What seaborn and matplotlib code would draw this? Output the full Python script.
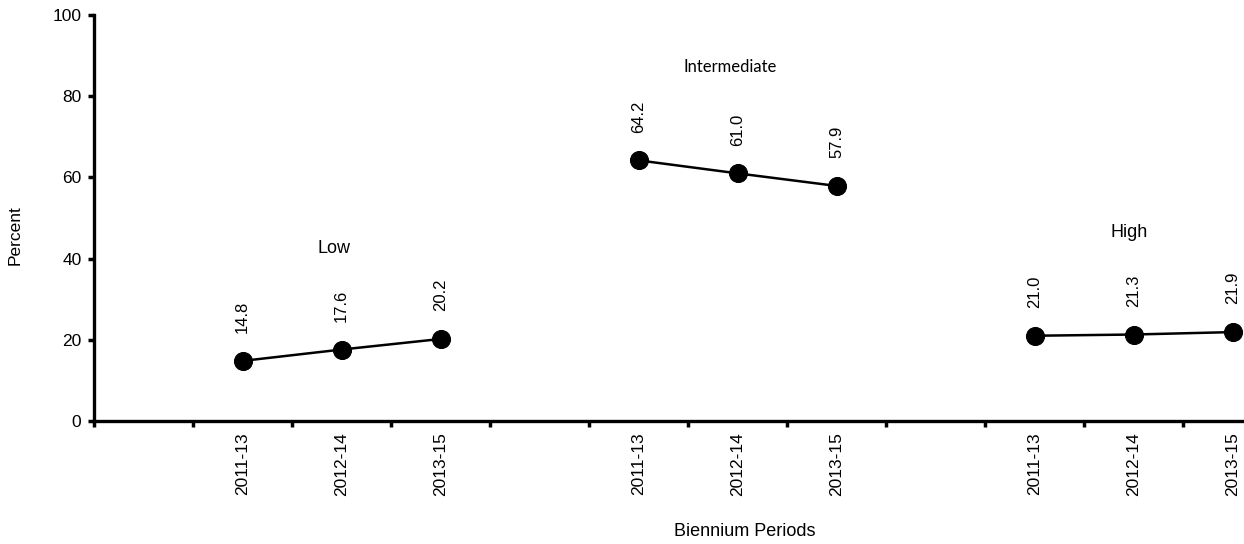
import pandas as pd
import matplotlib
matplotlib.use("Agg")
import matplotlib.pyplot as plt
import seaborn as sns

# data
groups = ["Low", "Intermediate", "High"]
periods = ["2011-13", "2012-14", "2013-15"]
low = [14.8, 17.6, 20.2]
intermediate = [64.2, 61.0, 57.9]
high = [21.0, 21.3, 21.9]
slot_labels = ["", "2011-13", "2012-14", "2013-15"] * 3

sns.set_style("white")
plt.rcParams["font.family"] = ["Liberation Sans", "DejaVu Sans"]
plt.rcParams["text.color"] = "black"
plt.rcParams["xtick.color"] = "black"
plt.rcParams["ytick.color"] = "black"

rows = []
for g, vals in enumerate([low, intermediate, high]):
    for p, v in enumerate(vals):
        rows.append({"group": groups[g], "period": periods[p],
                     "pos": g * 4 + p + 1, "value": v})
df = pd.DataFrame(rows)

fig = plt.figure(figsize=(12.44, 5.44), dpi=100)
ax = fig.add_axes([94 / 1244, 123 / 544, 1188 / 1244, 406 / 544])

sns.lineplot(data=df, x="pos", y="value", units="group", estimator=None,
             color="black", linewidth=1.8, marker="o", markersize=13,
             markeredgecolor="black", ax=ax, legend=False)

# value labels above points
for _, r in df.iterrows():
    ax.annotate(f"{r['value']:.1f}", (r["pos"], r["value"]),
                xytext=(0, 20), textcoords="offset points",
                rotation=90, ha="center", va="bottom", fontsize=12)

# group names
ax.text(1.92, 42.6, "Low", ha="center", va="center", fontsize=13)
ax.text(5.93, 87.2, "Intermediate", ha="center", va="center", fontsize=12,
        family=["Lato", "DejaVu Sans"])
ax.text(9.96, 46.5, "High", ha="center", va="center", fontsize=13)

ax.set_xlim(-0.5, 11.5)
ax.set_ylim(0, 100)
ax.set_yticks(range(0, 101, 20))
ax.set_xticks([i - 0.5 for i in range(13)])
ax.set_xticklabels([])
ax.set_xticks(range(12), minor=True)
ax.set_xticklabels(slot_labels, minor=True, rotation=90)
ax.tick_params(axis="x", which="minor", bottom=True, length=0, pad=8,
               labelsize=12.5, labelcolor="black")
ax.tick_params(axis="x", which="major", bottom=True, direction="out",
               length=4, width=2.5, color="black")
ax.tick_params(axis="y", left=True, direction="out", length=4, width=2.5,
               color="black", pad=5, labelsize=12.5, labelcolor="black")

for s in ["top", "right"]:
    ax.spines[s].set_visible(False)
for s in ["left", "bottom"]:
    ax.spines[s].set_linewidth(2.4)
    ax.spines[s].set_color("black")

ax.set_xlabel("")
ax.set_ylabel("")
fig.text(15 / 1244, 1 - 235 / 544, "Percent", rotation=90, ha="center",
         va="center", fontsize=12.5)
fig.text(745 / 1244, 1 - 532 / 544, "Biennium Periods", ha="center",
         va="center", fontsize=13)

fig.savefig("out.png", dpi=100)
